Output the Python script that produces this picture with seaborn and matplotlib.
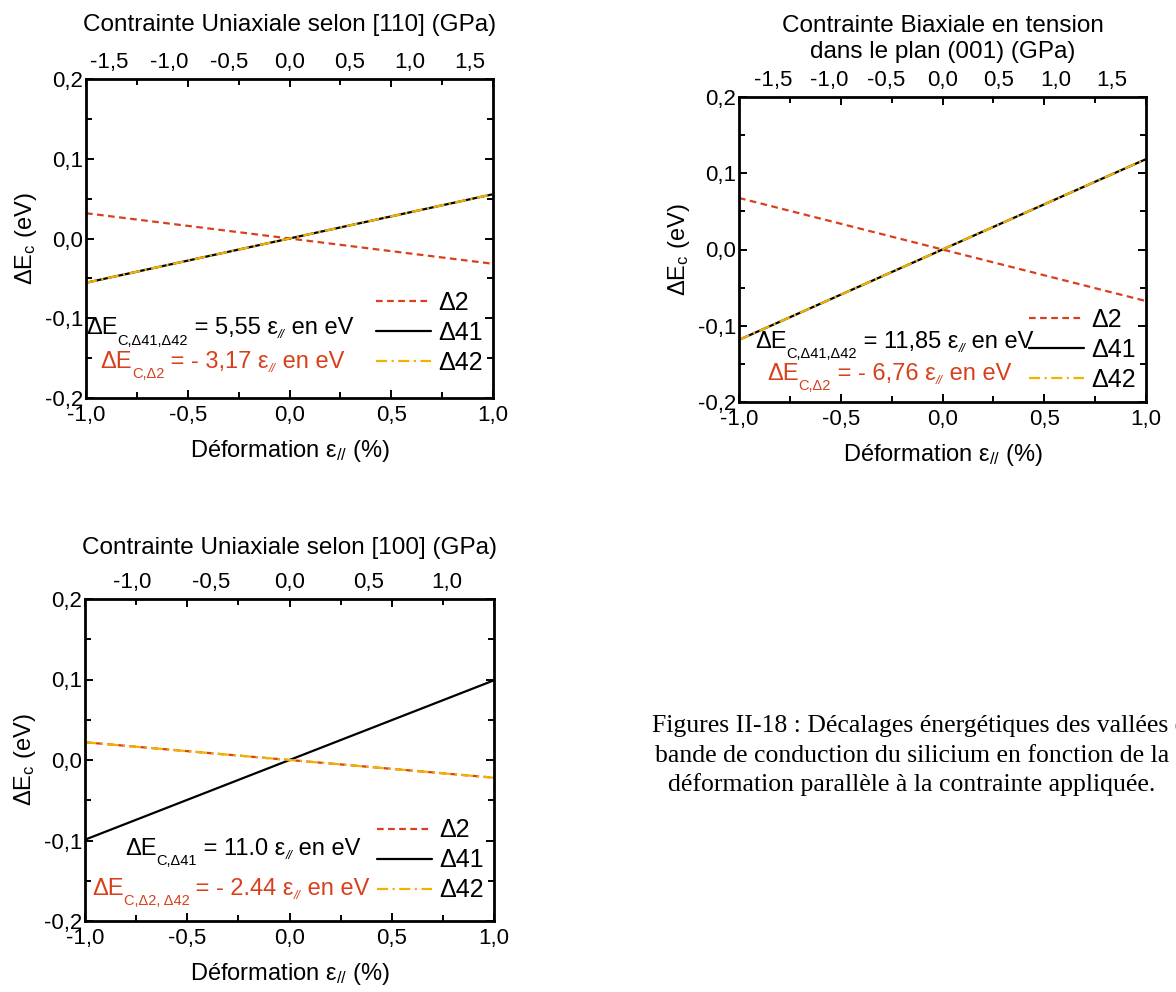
import numpy as np
import pandas as pd
import seaborn as sns
import matplotlib.pyplot as plt
from matplotlib.ticker import FuncFormatter, MultipleLocator

# strain end points (%)
strain = [-1.0, 1.0]

# conduction band valley shifts (eV)
u110_d2 = [0.0317, -0.0317]
u110_d41 = [-0.0555, 0.0555]
u110_d42 = [-0.0555, 0.0555]

bi001_d2 = [0.0676, -0.0676]
bi001_d41 = [-0.1185, 0.1185]
bi001_d42 = [-0.1185, 0.1185]

u100_d2 = [0.022, -0.022]
u100_d41 = [-0.099, 0.099]
u100_d42 = [0.022, -0.022]

# GPa per % of strain for the top axes
gpa_110 = 1.69
gpa_001 = 1.80
gpa_100 = 1.30
top_ticks_wide = [-1.5, -1.0, -0.5, 0.0, 0.5, 1.0, 1.5]
top_ticks_100 = [-1.0, -0.5, 0.0, 0.5, 1.0]

RED = '#d8401c'
ORANGE = '#f2b200'
W, H = 1176, 992

sns.set_style("white")
plt.rcParams['font.family'] = ['Liberation Sans', 'DejaVu Sans']
plt.rcParams['mathtext.fontset'] = 'custom'
plt.rcParams['mathtext.rm'] = 'Liberation Sans'
plt.rcParams['mathtext.it'] = 'Liberation Sans:italic'
plt.rcParams['mathtext.bf'] = 'Liberation Sans:bold'
for k in ['text.color', 'axes.labelcolor', 'xtick.color', 'ytick.color']:
    plt.rcParams[k] = 'black'

comma = FuncFormatter(lambda v, p: f"{v:.1f}".replace('.', ',').replace('-0,0', '0,0'))


def px_axes(fig, x0, y0, x1, y1):
    return fig.add_axes([x0 / W, 1 - y1 / H, (x1 - x0) / W, (y1 - y0) / H])


def eq_text(ax, x, y, parts, color):
    # chain of text pieces: 'm' main size, 's' low subscript, 'e' small subscript of epsilon
    first = ax.text(x, y, parts[0][0], transform=ax.transAxes, fontsize=17,
                    color=color, va='baseline')
    prev = first
    for s, kind in parts[1:]:
        if kind == 'm':
            t = ax.annotate(s, xy=(1, 0), xycoords=(prev, first), va='bottom',
                            fontsize=17, color=color)
        elif kind == 's':
            t = ax.annotate(s, xy=(1, 0), xycoords=(prev, first), xytext=(0, -6),
                            textcoords='offset points', va='bottom', fontsize=10.5, color=color)
        else:
            t = ax.annotate(s, xy=(1, 0), xycoords=(prev, first), xytext=(0, -1.5),
                            textcoords='offset points', va='bottom', fontsize=9,
                            color=color, style='italic')
        prev = t


def draw_panel(ax, d2, d41, d42, factor, top_ticks, top_title, title_pad,
               eq1, eq2, eq_pos, leg_y):
    df = pd.DataFrame({'strain': strain * 3,
                       'dE': d2 + d41 + d42,
                       'valley': ['Δ2'] * 2 + ['Δ41'] * 2 + ['Δ42'] * 2})
    styles = {'Δ2': (RED, (3, 2)), 'Δ41': ('black', ''), 'Δ42': (ORANGE, (5, 2, 1, 2))}
    for v in ['Δ2', 'Δ41', 'Δ42']:
        c, d = styles[v]
        sns.lineplot(data=df[df.valley == v], x='strain', y='dE', ax=ax, color=c,
                     lw=1.6, label=v)
        if d:
            ax.lines[-1].set_dashes(d)
    ax.set_xlim(-1, 1)
    ax.set_ylim(-0.2, 0.2)
    ax.xaxis.set_major_locator(MultipleLocator(0.5))
    ax.xaxis.set_minor_locator(MultipleLocator(0.25))
    ax.yaxis.set_major_locator(MultipleLocator(0.1))
    ax.yaxis.set_minor_locator(MultipleLocator(0.05))
    ax.xaxis.set_major_formatter(comma)
    ax.yaxis.set_major_formatter(comma)
    ax.tick_params(which='both', direction='in', top=True, right=True, bottom=True,
                   left=True, width=1.4, labelsize=16)
    ax.tick_params(which='major', length=6)
    ax.tick_params(which='minor', length=4)
    ax.tick_params(axis='x', pad=5)
    ax.tick_params(axis='y', pad=2)
    for s in ax.spines.values():
        s.set_linewidth(2)
        s.set_color('black')
    ax.set_xlabel('Déformation ε$_{//}$ (%)', fontsize=17, labelpad=9)
    ax.set_ylabel('ΔE$_\\mathregular{c}$ (eV)', fontsize=17, labelpad=4.5)

    top = ax.secondary_xaxis('top', functions=(lambda x: x * factor, lambda x: x / factor))
    top.set_xticks(top_ticks)
    top.xaxis.set_major_formatter(comma)
    top.tick_params(length=0, labelsize=16, pad=4.2)
    top.spines['top'].set_visible(False)
    top.set_xlabel(top_title, fontsize=17.5, labelpad=title_pad)

    ax.legend(loc='lower right', bbox_to_anchor=(1.0, leg_y), frameon=False, fontsize=18,
              handlelength=2.2, labelspacing=0.24, handletextpad=0.3, borderaxespad=0)
    eq_text(ax, eq_pos[0], eq_pos[1], eq1, 'black')
    eq_text(ax, eq_pos[2], eq_pos[3], eq2, RED)


fig = plt.figure(figsize=(W / 100, H / 100), dpi=100)

ax1 = px_axes(fig, 86, 79, 493, 398)
draw_panel(ax1, u110_d2, u110_d41, u110_d42, gpa_110, top_ticks_wide,
           'Contrainte Uniaxiale selon [110] (GPa)', 15.5,
           [('ΔE', 'm'), ('C,Δ41,Δ42', 's'), (' = 5,55 ε', 'm'), ('//', 'e'), (' en eV', 'm')],
           [('ΔE', 'm'), ('C,Δ2', 's'), (' = - 3,17 ε', 'm'), ('//', 'e'), (' en eV', 'm')],
           (0.0, 0.2, 0.035, 0.094), 0.04)

ax2 = px_axes(fig, 739, 97, 1146, 402)
draw_panel(ax2, bi001_d2, bi001_d41, bi001_d42, gpa_001, top_ticks_wide,
           'Contrainte Biaxiale en tension\ndans le plan (001) (GPa)', 9,
           [('ΔE', 'm'), ('C,Δ41,Δ42', 's'), (' = 11,85 ε', 'm'), ('//', 'e'), (' en eV', 'm')],
           [('ΔE', 'm'), ('C,Δ2', 's'), (' = - 6,76 ε', 'm'), ('//', 'e'), (' en eV', 'm')],
           (0.039, 0.177, 0.069, 0.072), 0.0)

ax3 = px_axes(fig, 85, 599, 494, 921)
draw_panel(ax3, u100_d2, u100_d41, u100_d42, gpa_100, top_ticks_100,
           'Contrainte Uniaxiale selon [100] (GPa)', 13,
           [('ΔE', 'm'), ('C,Δ41', 's'), (' = 11.0 ε', 'm'), ('//', 'e'), (' en eV', 'm')],
           [('ΔE', 'm'), ('C,Δ2, Δ42', 's'), (' = - 2.44 ε', 'm'), ('//', 'e'), (' en eV', 'm')],
           (0.098, 0.205, 0.017, 0.081), 0.027)

caption = ['Figures II-18 : Décalages énergétiques des vallées de la',
           'bande de conduction du silicium en fonction de la',
           'déformation parallèle à la contrainte appliquée.']
cap_x = [652, 655, 668]
cap_y = [732, 762, 791]
for t, x, y in zip(caption, cap_x, cap_y):
    fig.text(x / W, 1 - y / H, t, fontsize=18.5, family='Liberation Serif',
             ha='left', va='baseline')

fig.savefig('out.png', dpi=100)
